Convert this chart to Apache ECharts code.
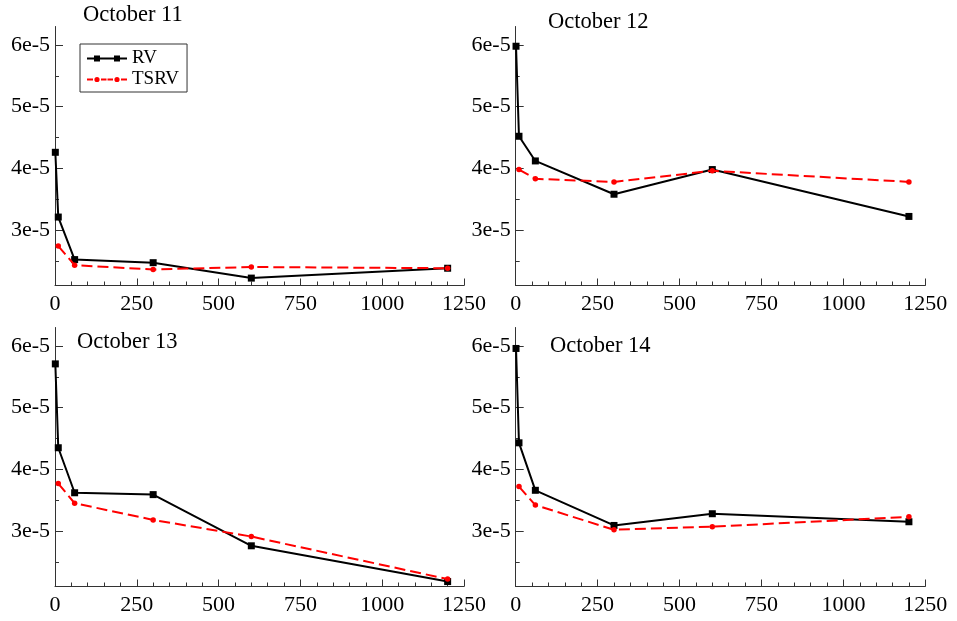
<!DOCTYPE html>
<html>
<head>
<meta charset="utf-8">
<script src="https://cdn.jsdelivr.net/npm/echarts@6/dist/echarts.min.js"></script>
<style>
  html, body { margin: 0; padding: 0; background: #fff; }
  #chart { width: 957px; height: 621px; }
</style>
</head>
<body>
<div id="chart"></div>
<script>
// ---- data (sampling interval in seconds, realized variance estimates) ----
const panelTitles = ['October 11', 'October 12', 'October 13', 'October 14'];
const sampleSecondsRV = [1, 10, 60, 300, 600, 1200];
const sampleSecondsTSRV = [10, 60, 300, 600, 1200];

const rvOct11 = [4.26e-5, 3.21e-5, 2.52e-5, 2.47e-5, 2.22e-5, 2.38e-5];
const tsrvOct11 = [2.74e-5, 2.43e-5, 2.36e-5, 2.40e-5, 2.38e-5];
const rvOct12 = [5.98e-5, 4.52e-5, 4.12e-5, 3.58e-5, 3.98e-5, 3.22e-5];
const tsrvOct12 = [3.98e-5, 3.83e-5, 3.78e-5, 3.96e-5, 3.78e-5];
const rvOct13 = [5.71e-5, 4.35e-5, 3.62e-5, 3.59e-5, 2.76e-5, 2.18e-5];
const tsrvOct13 = [3.77e-5, 3.45e-5, 3.18e-5, 2.91e-5, 2.22e-5];
const rvOct14 = [5.96e-5, 4.43e-5, 3.66e-5, 3.09e-5, 3.28e-5, 3.15e-5];
const tsrvOct14 = [3.72e-5, 3.42e-5, 3.02e-5, 3.07e-5, 3.23e-5];

const yTickValues = [3e-5, 4e-5, 5e-5, 6e-5];
const yMinorTickValues = [2.5e-5, 3.5e-5, 4.5e-5, 5.5e-5];
const xTickStep = 250;

const rvSets = [rvOct11, rvOct12, rvOct13, rvOct14];
const tsrvSets = [tsrvOct11, tsrvOct12, tsrvOct13, tsrvOct14];

// ---- layout ----
const gridBoxes = [
  { left: 55, top: 26.5, width: 409, height: 259 },
  { left: 515.7, top: 26.5, width: 409.6, height: 259 },
  { left: 55, top: 327.5, width: 409, height: 259 },
  { left: 515.7, top: 327.5, width: 409.6, height: 259 }
];
const titlePos = [
  { left: 83, top: 4 },
  { left: 548, top: 11 },
  { left: 77, top: 331 },
  { left: 550, top: 335 }
];

const FONT = 'Liberation Serif';
const AXIS_COLOR = '#333';

const grid = [], xAxis = [], yAxis = [], series = [], title = [];

panelTitles.forEach((name, i) => {
  grid.push(Object.assign({ containLabel: false }, gridBoxes[i]));
  title.push({
    text: name, left: titlePos[i].left, top: titlePos[i].top, padding: 0,
    textStyle: { fontFamily: FONT, fontSize: 22.5, fontWeight: 'normal', color: '#000' }
  });
  xAxis.push({
    type: 'value', gridIndex: i, min: 0, max: 1250, interval: xTickStep,
    axisLine: { show: true, onZero: false, lineStyle: { color: AXIS_COLOR, width: 1 } },
    axisTick: { show: true, inside: true, length: 7, lineStyle: { color: AXIS_COLOR } },
    minorTick: { show: true, splitNumber: 5, length: 4, lineStyle: { color: AXIS_COLOR } },
    axisLabel: { margin: 8, fontFamily: FONT, fontSize: 22, color: '#000', formatter: v => String(v) },
    splitLine: { show: false }, minorSplitLine: { show: false }
  });
  yAxis.push({
    type: 'value', gridIndex: i, min: 2.1e-5, max: 6.3e-5, position: 'left',
    axisLine: { show: true, onZero: false, lineStyle: { color: AXIS_COLOR, width: 1 } },
    axisTick: { show: true, inside: true, length: 8, customValues: yTickValues, lineStyle: { color: AXIS_COLOR } },
    axisLabel: {
      customValues: yTickValues, margin: 5, fontFamily: FONT, fontSize: 22, color: '#000',
      formatter: v => Math.round(v * 1e5) + 'e-5'
    },
    splitLine: { show: false }
  });
  yAxis.push({
    type: 'value', gridIndex: i, min: 2.1e-5, max: 6.3e-5, position: 'left', offset: 0,
    axisLine: { show: false },
    axisTick: { show: true, inside: true, length: 4, customValues: yMinorTickValues, lineStyle: { color: AXIS_COLOR } },
    axisLabel: { show: false },
    splitLine: { show: false }
  });
  series.push({
    name: 'RV', type: 'line', xAxisIndex: i, yAxisIndex: 2 * i,
    data: sampleSecondsRV.map((x, k) => [x, rvSets[i][k]]),
    symbol: 'rect', symbolSize: 7, showSymbol: true,
    lineStyle: { color: '#000', width: 2 },
    itemStyle: { color: '#000' },
    z: 2
  });
  series.push({
    name: 'TSRV', type: 'line', xAxisIndex: i, yAxisIndex: 2 * i,
    data: sampleSecondsTSRV.map((x, k) => [x, tsrvSets[i][k]]),
    symbol: 'circle', symbolSize: 5.5, showSymbol: true,
    lineStyle: { color: '#ff0000', width: 2, type: [11, 5] },
    itemStyle: { color: '#ff0000' },
    z: 3
  });
});

const rvIcon = 'path://M0,2.1H40V3.9H0Z M7,0H13V6H7Z M27,0H33V6H27Z';
const tsrvIcon = 'path://M0,2.1H6V3.9H0Z M14,2.1H19.5V3.9H14Z M20.5,2.1H26V3.9H20.5Z M34,2.1H40V3.9H34Z ' +
  'M7.4,3A2.6,2.6 0 1,1 12.6,3A2.6,2.6 0 1,1 7.4,3Z M27.4,3A2.6,2.6 0 1,1 32.6,3A2.6,2.6 0 1,1 27.4,3Z ' +
  'M20,0.4L20,0.4Z M20,5.6L20,5.6Z';

const chart = echarts.init(document.getElementById('chart'), null, { renderer: 'canvas' });
chart.setOption({
  animation: false,
  backgroundColor: '#fff',
  title,
  legend: {
    left: 80, top: 44, orient: 'vertical',
    data: [{ name: 'RV', icon: rvIcon }, { name: 'TSRV', icon: tsrvIcon }],
    itemWidth: 40, itemHeight: 6, itemGap: 2,
    padding: [5, 8, 3, 7],
    borderColor: '#333', borderWidth: 1, backgroundColor: '#fff',
    textStyle: { fontFamily: FONT, fontSize: 19, color: '#000' },
    selectedMode: false
  },
  grid, xAxis, yAxis, series
});
</script>
</body>
</html>
